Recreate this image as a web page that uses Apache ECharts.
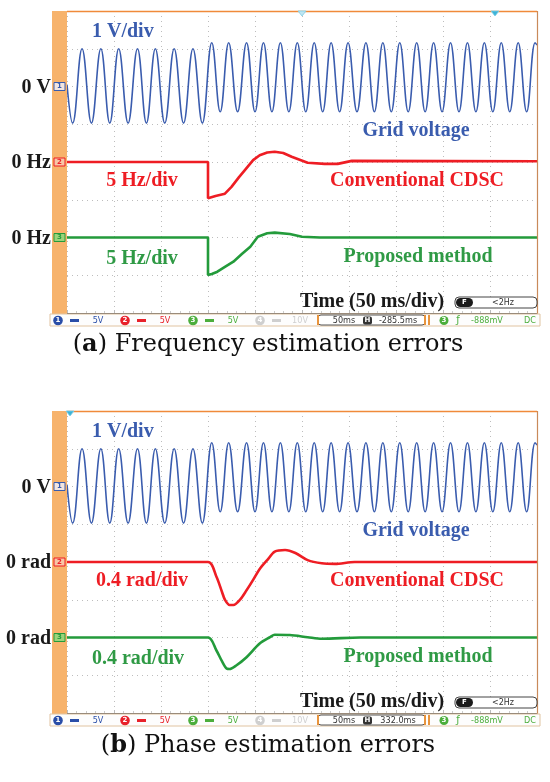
<!DOCTYPE html>
<html>
<head>
<meta charset="utf-8">
<script src="https://cdn.jsdelivr.net/npm/echarts@6/dist/echarts.min.js"></script>
<style>html,body{margin:0;padding:0;background:#fff;}#c{width:550px;height:782px;}</style>
</head>
<body>
<div id="c"></div>
<script>
// ---- Data (time in ms, 50 ms/div) ----
// Grid voltage: successive extremes (V), 1 V/div
var voltT = [0, 6, 16, 26, 36, 45.5, 55, 65, 75, 84.5, 94, 104, 114, 124, 134, 144,
  154, 163, 172, 181.5, 191, 200, 209, 218, 227, 236, 245, 254, 263, 272, 281, 290, 299, 308.5,
  318, 327, 336, 345, 354, 363, 372, 381, 390, 399, 408, 417, 426, 435, 444, 453, 462, 471, 480, 489, 498, 500];
var voltV = [0.05, -0.97, 1.0, -0.97, 1.0, -0.97, 1.0, -0.97, 1.0, -0.97, 1.0, -0.97, 1.0, -0.97, 1.0, -0.97,
  1.16, -0.67, 1.16, -0.67, 1.16, -0.67, 1.16, -0.67, 1.16, -0.67, 1.16, -0.67, 1.16, -0.67, 1.16, -0.67, 1.16, -0.67,
  1.16, -0.67, 1.16, -0.67, 1.16, -0.67, 1.16, -0.67, 1.16, -0.67, 1.16, -0.67, 1.16, -0.67, 1.16, -0.67, 1.16, -0.67, 1.16, -0.67, 1.16, 1.1];

// (a) Frequency estimation errors (Hz), 5 Hz/div
var freqConvT = [0, 150, 150, 158, 168, 175, 183, 189, 198, 205, 213, 221, 230, 239, 256, 274, 288, 303, 500];
var freqConvV = [0, 0, -4.8, -4.5, -4.2, -3.3, -2.0, -1.1, 0.25, 0.9, 1.25, 1.36, 1.2, 0.7, -0.1, -0.25, -0.25, 0.15, 0.1];
var freqPropT = [0, 150, 150, 154, 160, 168, 177, 186, 195, 203, 213, 221, 237, 250, 269, 500];
var freqPropV = [0, 0, -4.97, -4.83, -4.53, -3.9, -3.2, -2.19, -1.22, 0.1, 0.56, 0.64, 0.46, 0.1, 0, 0];

// (b) Phase estimation errors (rad), 0.4 rad/div
var phaseConvT = [0, 150, 159, 165, 168, 173, 177, 184, 191, 198, 205, 213, 221, 232, 243, 256, 271, 285, 306, 500];
var phaseConvV = [0, 0, -0.156, -0.32, -0.40, -0.456, -0.456, -0.40, -0.30, -0.19, -0.074, 0.02, 0.109, 0.127, 0.095, 0.02, -0.014, -0.02, 0, 0];
var phasePropT = [0, 150, 159, 165, 170, 173, 180, 191, 205, 216, 221, 237, 256, 271, 312, 500];
var phasePropV = [0, 0, -0.138, -0.254, -0.33, -0.334, -0.297, -0.209, -0.064, 0.003, 0.029, 0.026, 0.003, -0.014, 0, 0];

// Channel scales: [min, max] so that 0 sits at the channel marker (8 div screen)
var ch1Range = [-6, 2];          // 1 V/div, 0 at 2 div from top
var ch2RangeA = [-20, 20];       // 5 Hz/div, 0 at centre
var ch3RangeA = [-10, 30];       // 5 Hz/div, 0 at 6 div from top
var ch2RangeB = [-1.6, 1.6];     // 0.4 rad/div
var ch3RangeB = [-0.8, 2.4];
var timeRange = [0, 500];        // 50 ms/div, 10 div

var captions = ['Frequency estimation errors', 'Phase estimation errors'];
var captionTags = ['a', 'b'];
var chLabels = [['0 V', '0 Hz', '0 Hz'], ['0 V', '0 rad', '0 rad']];
var scaleLabels = [['1 V/div', '5 Hz/div', '5 Hz/div'], ['1 V/div', '0.4 rad/div', '0.4 rad/div']];
var delayText = ['-285.5ms', '332.0ms'];

function zip(t, v) { return t.map(function (x, i) { return [x, v[i]]; }); }

var BLUE = '#3a5cae', RED = '#ee1d24', GREEN = '#239b3b', GREENT = '#2f9a45', ORANGE = '#f7b36c';
var LEFT = 67, W = 470, H = 302, TOPS = [11, 411];

var grids = [], xAxes = [], yAxes = [], series = [], graphic = [];
TOPS.forEach(function (top, p) {
  grids.push({ left: LEFT, top: top, width: W, height: H });
  xAxes.push({
    type: 'value', gridIndex: p, min: timeRange[0], max: timeRange[1], interval: 50,
    axisLabel: { show: false },
    axisTick: { show: true, inside: true, length: 3, lineStyle: { color: '#bbb' } },
    minorTick: { show: true, splitNumber: 5, length: 2, lineStyle: { color: '#ccc' } },
    axisLine: { show: true, onZero: false, lineStyle: { color: '#555', width: 1.2 } },
    splitLine: { show: true, lineStyle: { color: '#bdbdbd', type: [1, 4], width: 1 } }
  });
  var r2 = p === 0 ? ch2RangeA : ch2RangeB, r3 = p === 0 ? ch3RangeA : ch3RangeB;
  yAxes.push({
    type: 'value', gridIndex: p, min: ch1Range[0], max: ch1Range[1], interval: 1,
    axisLabel: { show: false }, axisTick: { show: false }, axisLine: { show: false },
    splitLine: { show: true, lineStyle: { color: '#bdbdbd', type: [1, 4], width: 1 } }
  });
  yAxes.push({ type: 'value', gridIndex: p, min: r2[0], max: r2[1], show: false, splitLine: { show: false } });
  yAxes.push({ type: 'value', gridIndex: p, min: r3[0], max: r3[1], show: false, splitLine: { show: false } });

  series.push({
    type: 'line', xAxisIndex: p, yAxisIndex: p * 3, data: zip(voltT, voltV),
    smooth: 0.42, showSymbol: false, silent: true, animation: false,
    lineStyle: { color: BLUE, width: 1.6 }
  });
  var convT = p === 0 ? freqConvT : phaseConvT, convV = p === 0 ? freqConvV : phaseConvV;
  var propT = p === 0 ? freqPropT : phasePropT, propV = p === 0 ? freqPropV : phasePropV;
  series.push({
    type: 'line', xAxisIndex: p, yAxisIndex: p * 3 + 1, data: zip(convT, convV),
    smooth: p === 0 ? false : 0.3, showSymbol: false, silent: true, animation: false,
    lineStyle: { color: RED, width: 2.6 }
  });
  series.push({
    type: 'line', xAxisIndex: p, yAxisIndex: p * 3 + 2, data: zip(propT, propV),
    smooth: p === 0 ? false : 0.3, showSymbol: false, silent: true, animation: false,
    lineStyle: { color: GREEN, width: 2.6 }
  });

  // orange strip on the left, border lines
  graphic.push({ type: 'rect', shape: { x: 52, y: top, width: 15, height: H + 2 }, style: { fill: ORANGE }, z: 10 });
  graphic.push({ type: 'line', shape: { x1: LEFT, y1: top + 0.5, x2: LEFT + W, y2: top + 0.5 }, style: { stroke: '#f08a3a', lineWidth: 1.5 }, z: 10 });
  graphic.push({ type: 'line', shape: { x1: LEFT + W + 0.5, y1: top, x2: LEFT + W + 0.5, y2: top + H + 2 }, style: { stroke: '#c98a5a', lineWidth: 1.2 }, z: 10 });

  // channel markers on the strip
  var markY = [top + 75.5, top + 151, top + 226.5];
  var markCol = [BLUE, RED, GREEN];
  markY.forEach(function (y, i) {
    graphic.push({ type: 'rect', shape: { x: 54, y: y - 4, width: 11, height: 8 },
      style: { fill: i === 0 ? '#f3e6e0' : (i === 1 ? '#f7c6a6' : '#9bd37a'), stroke: markCol[i], lineWidth: 1 }, z: 11 });
    graphic.push({ type: 'text', style: { text: String(i + 1), x: 59.5, y: y, fill: markCol[i], font: 'bold 7px "DejaVu Sans"', textAlign: 'center', textVerticalAlign: 'middle' }, z: 12 });
    graphic.push({ type: 'text', style: { text: chLabels[p][i], x: 51, y: y + 1, fill: '#1a1a1a', font: 'bold 20px "Liberation Serif"', textAlign: 'right', textVerticalAlign: 'middle' }, z: 12 });
  });

  // in-plot labels
  var sl = scaleLabels[p];
  graphic.push({ type: 'text', style: { text: sl[0], x: 92, y: top + 21, fill: BLUE, font: 'bold 20px "Liberation Serif"', textVerticalAlign: 'middle' }, z: 12 });
  graphic.push({ type: 'text', style: { text: 'Grid voltage', x: 416, y: top + 120, fill: BLUE, font: 'bold 20px "Liberation Serif"', textAlign: 'center', textVerticalAlign: 'middle' }, z: 12 });
  graphic.push({ type: 'text', style: { text: sl[1], x: 142, y: top + 170, fill: RED, font: 'bold 20px "Liberation Serif"', textAlign: 'center', textVerticalAlign: 'middle' }, z: 12 });
  graphic.push({ type: 'text', style: { text: 'Conventional CDSC', x: 417, y: top + 170, fill: RED, font: 'bold 20px "Liberation Serif"', textAlign: 'center', textVerticalAlign: 'middle' }, z: 12 });
  graphic.push({ type: 'text', style: { text: sl[2], x: p === 0 ? 142 : 138, y: top + 248, fill: GREENT, font: 'bold 20px "Liberation Serif"', textAlign: 'center', textVerticalAlign: 'middle' }, z: 12 });
  graphic.push({ type: 'text', style: { text: 'Proposed method', x: 418, y: top + 246, fill: GREENT, font: 'bold 20px "Liberation Serif"', textAlign: 'center', textVerticalAlign: 'middle' }, z: 12 });
  graphic.push({ type: 'text', style: { text: 'Time (50 ms/div)', x: 300, y: top + 291, fill: '#1a1a1a', font: 'bold 20px "Liberation Serif"', textVerticalAlign: 'middle' }, z: 12 });

  // F / <2Hz box
  graphic.push({ type: 'rect', shape: { x: 455, y: top + 286, width: 82, height: 11, r: 4 }, style: { fill: '#fff', stroke: '#444', lineWidth: 1 }, z: 12 });
  graphic.push({ type: 'rect', shape: { x: 456, y: top + 287, width: 17, height: 9, r: 4.5 }, style: { fill: '#1a1a1a' }, z: 13 });
  graphic.push({ type: 'text', style: { text: 'F', x: 464.5, y: top + 291.5, fill: '#fff', font: 'bold 7px "DejaVu Sans"', textAlign: 'center', textVerticalAlign: 'middle' }, z: 14 });
  graphic.push({ type: 'text', style: { text: '<2Hz', x: 503, y: top + 291.5, fill: '#333', font: '8px "DejaVu Sans"', textAlign: 'center', textVerticalAlign: 'middle' }, z: 14 });

  // trigger markers on the top edge
  var trigX = p === 0 ? [302, 495] : [70];
  trigX.forEach(function (x, k) {
    graphic.push({ type: 'polygon', shape: { points: [[x - 4, top], [x + 4, top], [x, top + 5]] },
      style: { fill: k === 0 && p === 0 ? '#bfe6f2' : '#3cb4d8', stroke: '#7fcbe3', lineWidth: 0.8 }, z: 12 });
  });

  // status bar
  var sy = top + H + 1, sh = 12, cy = sy + sh / 2 + 0.5;
  graphic.push({ type: 'rect', shape: { x: 50, y: sy, width: 490, height: sh }, style: { fill: '#fdfdfd', stroke: '#e0c3a0', lineWidth: 1 }, z: 10 });
  var chCols = ['#2a4ea8', '#e8212a', '#4cae3c', '#cfcfcf'];
  var chX = [58, 125, 193, 260];
  var chV = ['5V', '5V', '5V', '10V'];
  chX.forEach(function (x, i) {
    graphic.push({ type: 'circle', shape: { cx: x, cy: cy, r: 4.8 }, style: { fill: chCols[i] }, z: 12 });
    graphic.push({ type: 'text', style: { text: String(i + 1), x: x, y: cy, fill: '#fff', font: 'bold 7px "DejaVu Sans"', textAlign: 'center', textVerticalAlign: 'middle' }, z: 13 });
    graphic.push({ type: 'rect', shape: { x: x + 12, y: cy - 1.5, width: 9, height: 3 }, style: { fill: chCols[i] }, z: 12 });
    graphic.push({ type: 'text', style: { text: chV[i], x: x + 40, y: cy, fill: chCols[i], font: '9px "DejaVu Sans Condensed"', textAlign: 'center', textVerticalAlign: 'middle' }, z: 13 });
  });
  graphic.push({ type: 'rect', shape: { x: 318, y: sy + 1, width: 107, height: sh - 2, r: 3 }, style: { fill: '#fff', stroke: '#555', lineWidth: 1 }, z: 12 });
  graphic.push({ type: 'line', shape: { x1: 318, y1: sy + 1, x2: 318, y2: sy + sh - 1 }, style: { stroke: '#e8943c', lineWidth: 2 }, z: 13 });
  graphic.push({ type: 'line', shape: { x1: 425, y1: sy + 1, x2: 425, y2: sy + sh - 1 }, style: { stroke: '#e8943c', lineWidth: 2 }, z: 13 });
  graphic.push({ type: 'text', style: { text: '50ms', x: 344, y: cy, fill: '#333', font: '9px "DejaVu Sans Condensed"', textAlign: 'center', textVerticalAlign: 'middle' }, z: 13 });
  graphic.push({ type: 'rect', shape: { x: 363, y: cy - 4, width: 9, height: 8, r: 2 }, style: { fill: '#333' }, z: 13 });
  graphic.push({ type: 'text', style: { text: 'H', x: 367.5, y: cy, fill: '#fff', font: 'bold 7px "DejaVu Sans"', textAlign: 'center', textVerticalAlign: 'middle' }, z: 14 });
  graphic.push({ type: 'text', style: { text: delayText[p], x: 398, y: cy, fill: '#333', font: '9px "DejaVu Sans Condensed"', textAlign: 'center', textVerticalAlign: 'middle' }, z: 13 });
  graphic.push({ type: 'line', shape: { x1: 429, y1: sy + 1, x2: 429, y2: sy + sh - 1 }, style: { stroke: '#e8943c', lineWidth: 2 }, z: 13 });
  graphic.push({ type: 'circle', shape: { cx: 444, cy: cy, r: 4.5 }, style: { fill: '#4cae3c' }, z: 12 });
  graphic.push({ type: 'text', style: { text: '3', x: 444, y: cy, fill: '#fff', font: 'bold 7px "DejaVu Sans"', textAlign: 'center', textVerticalAlign: 'middle' }, z: 13 });
  graphic.push({ type: 'text', style: { text: 'ƒ', x: 458, y: cy, fill: '#4cae3c', font: '10px "DejaVu Sans"', textAlign: 'center', textVerticalAlign: 'middle' }, z: 13 });
  graphic.push({ type: 'text', style: { text: '-888mV', x: 487, y: cy, fill: '#4cae3c', font: '9px "DejaVu Sans Condensed"', textAlign: 'center', textVerticalAlign: 'middle' }, z: 13 });
  graphic.push({ type: 'text', style: { text: 'DC', x: 530, y: cy, fill: '#4cae3c', font: '9px "DejaVu Sans Condensed"', textAlign: 'center', textVerticalAlign: 'middle' }, z: 13 });

  // caption
  graphic.push({ type: 'text', style: {
      text: '({b|' + captionTags[p] + '}) ' + captions[p], x: 268, y: top + 334 + (p === 1 ? 1 : 0),
      fill: '#111', font: '24px "DejaVu Serif"', textAlign: 'center', textVerticalAlign: 'middle',
      rich: { b: { font: 'bold 24px "DejaVu Serif"', fill: '#111' } } }, z: 12 });
});

var chart = echarts.init(document.getElementById('c'), null, { renderer: 'canvas' });
chart.setOption({
  animation: false,
  backgroundColor: '#ffffff',
  grid: grids, xAxis: xAxes, yAxis: yAxes, series: series, graphic: graphic
});
</script>
</body>
</html>
